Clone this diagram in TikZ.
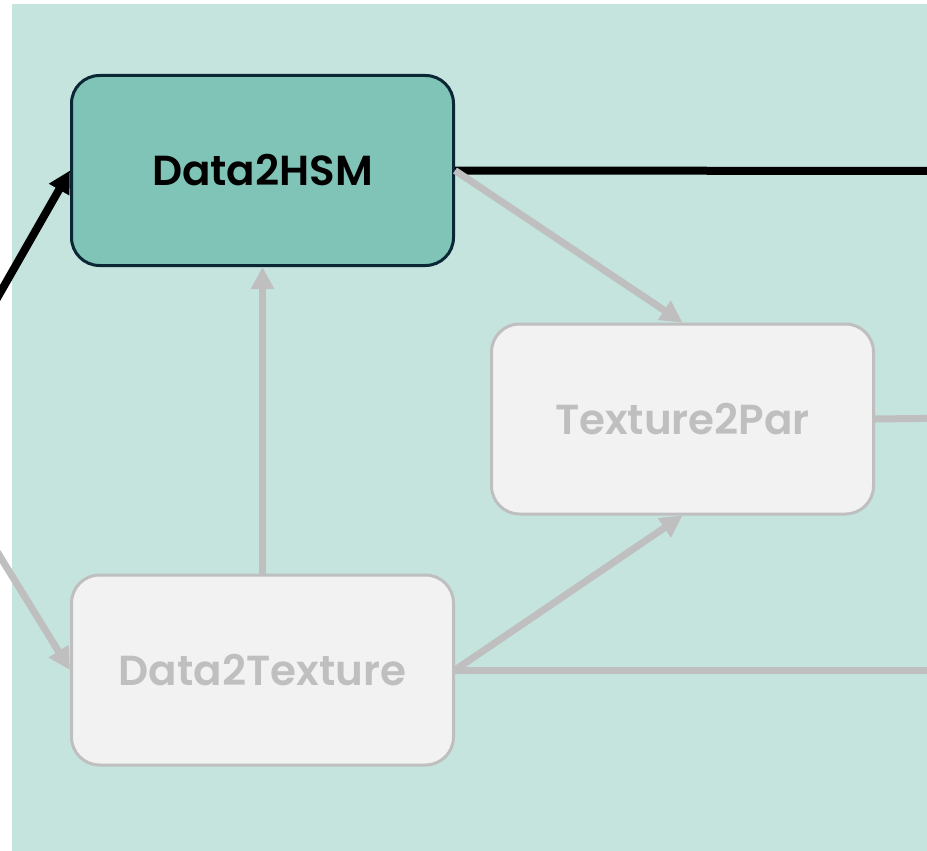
\documentclass[tikz,border=0pt]{standalone}
\usepackage{fontspec}
\setmainfont{Poppins}[BoldFont={Poppins SemiBold}]
\usetikzlibrary{arrows.meta}
\definecolor{panel}{HTML}{C5E4DE}
\definecolor{activefill}{HTML}{7FC4B6}
\definecolor{activeline}{HTML}{0B2736}
\definecolor{idlefill}{HTML}{F2F2F2}
\definecolor{idleline}{HTML}{BFBFBF}
\tikzset{
  stagebox/.style={rounded corners=28pt, line width=3pt, minimum width=382pt,
    minimum height=190pt, inner sep=0pt, align=center,
    font=\fontsize{42}{50}\selectfont\bfseries},
  activebox/.style={stagebox, draw=activeline, fill=activefill, text=black},
  idlebox/.style={stagebox, draw=idleline, fill=idlefill, text=idleline},
  hot/.style={draw=black, line width=8pt, -{Triangle[length=22pt,width=22pt]}},
  hotplain/.style={draw=black, line width=8pt},
  cold/.style={draw=idleline, line width=7pt, -{Triangle[length=22pt,width=22pt]}},
  coldplain/.style={draw=idleline, line width=7pt},
}
\begin{document}
\begin{tikzpicture}[x=1pt, y=-1pt]
  \useasboundingbox (0,0) rectangle (927,851);
  \fill[white] (0,0) rectangle (927,851);
  \fill[panel] (12,4) rectangle (940,860);

  \node[activebox] (hsm) at (262.5,170.5) {Data2HSM};
  \node[idlebox] (par) at (682.5,419) {Texture2Par};
  \node[idlebox] (tex) at (262.5,670) {Data2Texture};

  % entries from and exits to stages outside the view
  \coordinate (inHot) at (-20,328);
  \coordinate (inCold) at (-20,524);
  \coordinate (outHot) at (960,171);
  \coordinate (outPar) at (960,418);
  \coordinate (outTex) at (960,670);

  \draw[hot] (inHot) -- (hsm.west);
  \draw[hotplain] (hsm.east) -- (outHot);
  \draw[cold] (hsm.east) -- (par.north);
  \draw[cold] (tex.north) -- (hsm.south);
  \draw[cold] (tex.east) -- (par.south);
  \draw[coldplain] (tex.east) -- (outTex);
  \draw[coldplain] (par.east) -- (outPar);
  \draw[cold] (inCold) -- (tex.west);
\end{tikzpicture}
\end{document}
